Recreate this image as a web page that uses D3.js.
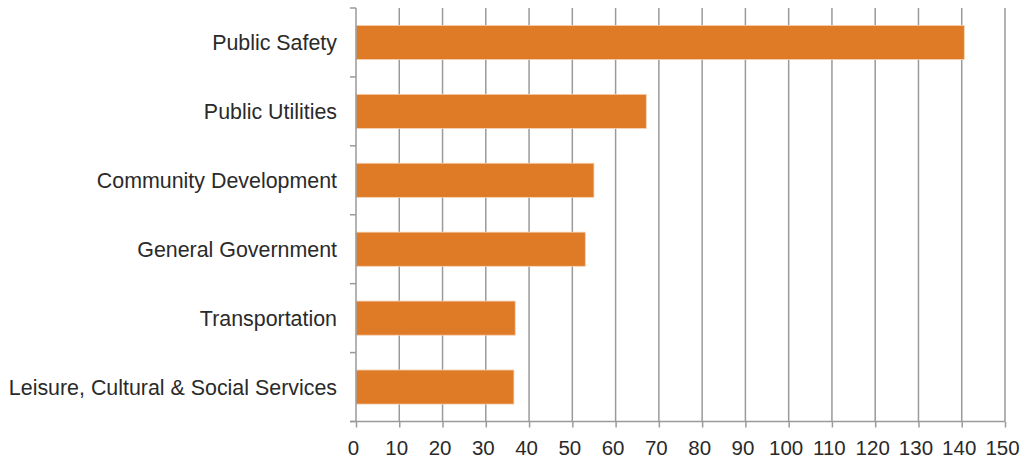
<!DOCTYPE html>
<html><head><meta charset="utf-8">
<script src="https://cdn.jsdelivr.net/npm/d3@7"></script>
<style>body{margin:0;background:#fff}svg{display:block}</style>
</head><body>
<script>
const categories = ["Public Safety","Public Utilities","Community Development","General Government","Transportation","Leisure, Cultural & Social Services"];
const values = [140.6, 67.1, 55.0, 53.0, 36.8, 36.5];
const tickValues = [0,10,20,30,40,50,60,70,80,90,100,110,120,130,140,150];

const W = 1035, H = 459;
const mLeft = 356, mRight = 1005, mTop = 8, mBottom = 421.5;
const svg = d3.select("body").append("svg").attr("width", W).attr("height", H);
const x = d3.scaleLinear().domain([0,150]).range([mLeft, mRight]);
const y = d3.scaleBand().domain(categories).range([mTop, mBottom]).paddingInner(0.505).paddingOuter(0.2525);
const grid = "#9a9a9a";
const font = "Liberation Sans, Arial, sans-serif";

// gridlines
svg.append("g").selectAll("line").data(tickValues.slice(1)).join("line")
  .attr("x1", d => x(d)).attr("x2", d => x(d)).attr("y1", mTop).attr("y2", mBottom)
  .attr("stroke", grid).attr("stroke-width", 1.5);

// bars
svg.append("g").selectAll("rect").data(values).join("rect")
  .attr("x", x(0)).attr("y", (d,i) => y(categories[i]))
  .attr("width", d => x(d) - x(0)).attr("height", y.bandwidth())
  .attr("fill", "#DF7A27").attr("stroke", "#F6D3B4").attr("stroke-width", 0.8);

// y axis line and ticks at band boundaries
const bounds = d3.range(categories.length + 1).map(i => mTop + i * (mBottom - mTop) / categories.length);
svg.append("line").attr("x1", mLeft).attr("x2", mLeft).attr("y1", mTop).attr("y2", mBottom)
  .attr("stroke", grid).attr("stroke-width", 1.5);
svg.append("g").selectAll("line").data(bounds).join("line")
  .attr("x1", mLeft - 6).attr("x2", mLeft).attr("y1", d => d).attr("y2", d => d)
  .attr("stroke", grid).attr("stroke-width", 1.5);

// y labels
svg.append("g").selectAll("text").data(categories).join("text")
  .attr("x", 337).attr("y", d => y(d) + y.bandwidth()/2)
  .attr("dy", "0.35em").attr("text-anchor", "end")
  .attr("font-family", font).attr("font-size", 21.4).attr("fill", "#2a2a2a")
  .text(d => d);

// x axis
const xa = svg.append("g").attr("transform", `translate(0,${mBottom})`)
  .call(d3.axisBottom(x).tickValues(tickValues).tickSize(6).tickPadding(13).tickSizeOuter(0));
xa.select(".domain").attr("stroke", grid).attr("stroke-width", 1.5).attr("d", `M${mLeft - 6},0H${mRight}`);
xa.selectAll(".tick line").attr("stroke", grid).attr("stroke-width", 1.5);
xa.selectAll(".tick text").attr("font-family", font).attr("font-size", 20.5).attr("fill", "#2a2a2a").attr("dx", -3);
</script>
</body></html>
